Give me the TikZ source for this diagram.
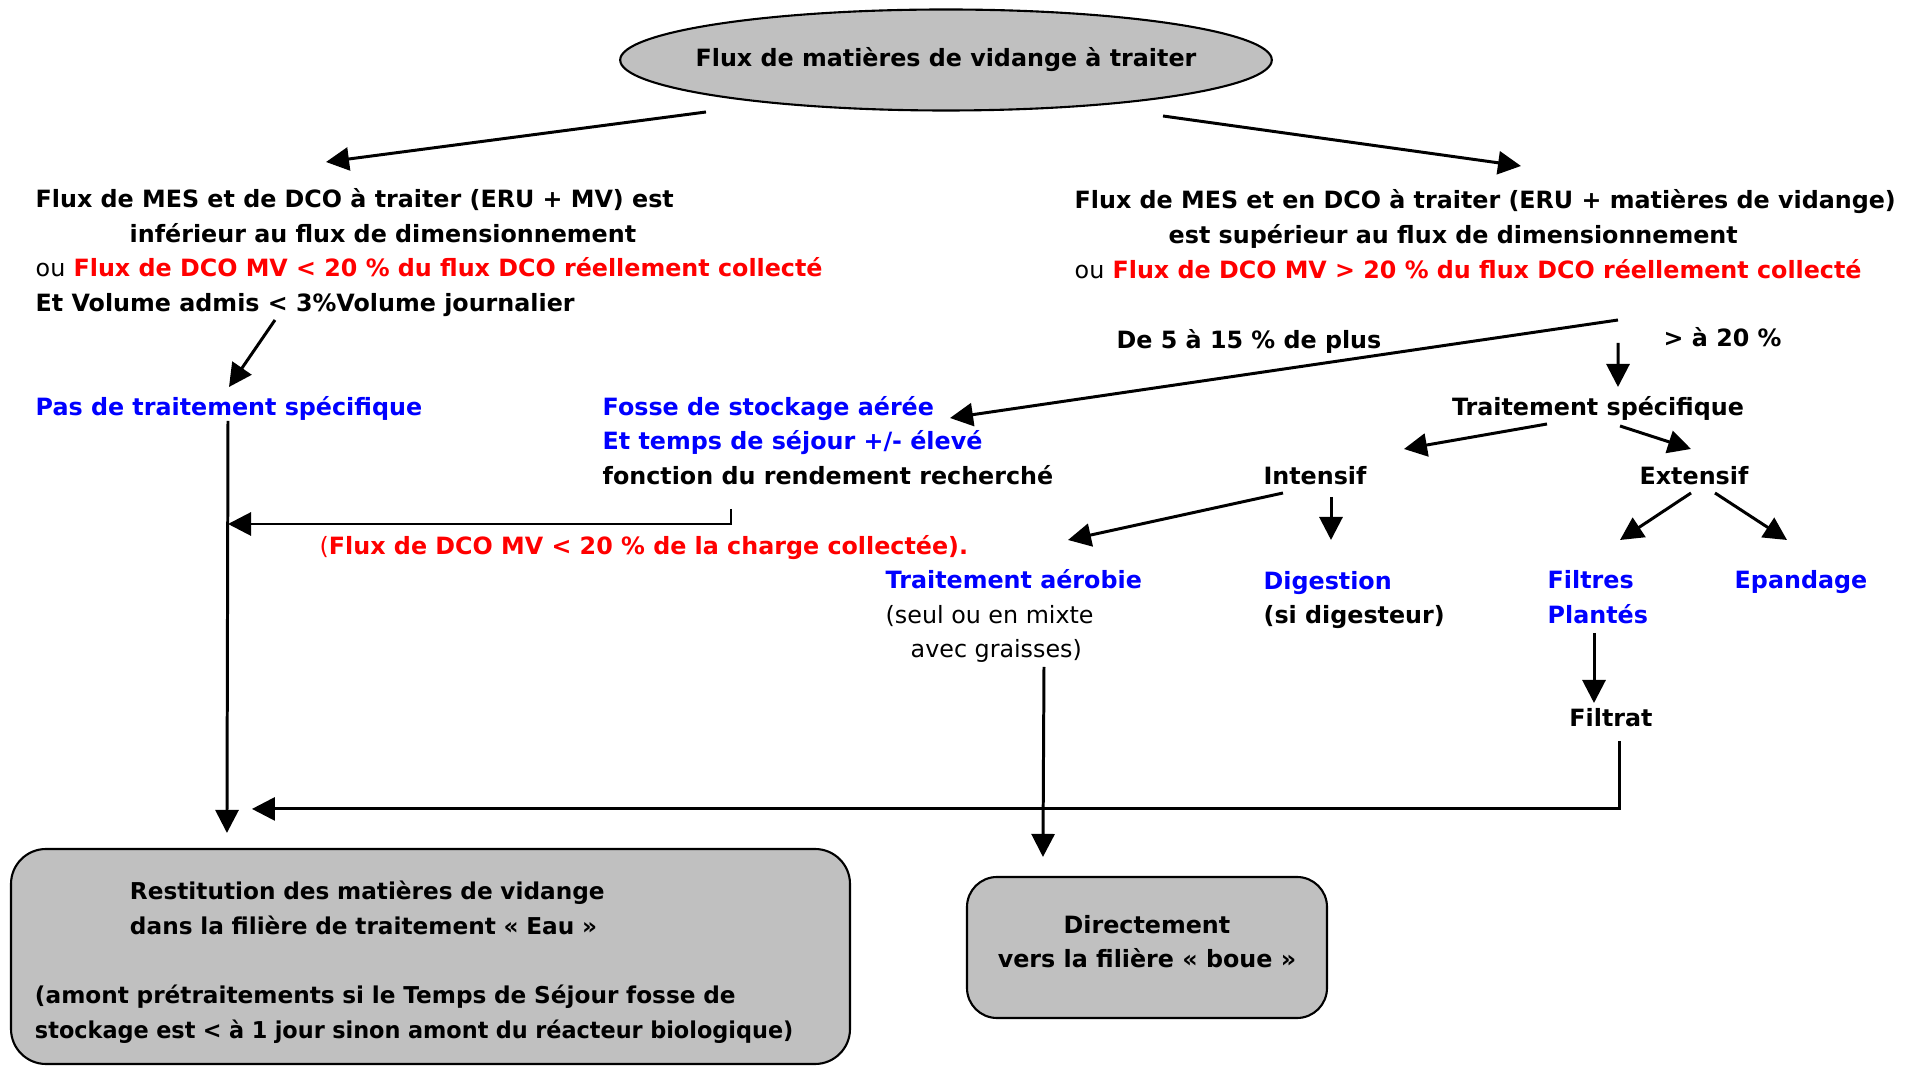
\documentclass[tikz,border=0pt]{standalone}
\usepackage{fontspec}
\usepackage{graphicx}
\setmainfont{DejaVu Sans}
\usetikzlibrary{arrows.meta,positioning,shapes.geometric,calc}
\definecolor{gris}{RGB}{192,192,192}
\definecolor{bleu}{RGB}{0,0,255}
\definecolor{rouge}{RGB}{255,0,0}

\begin{document}
\begin{tikzpicture}[
  font=\fontsize{6.77}{9.9}\selectfont\bfseries,
  titre/.style={ellipse, draw, fill=gris, line width=0.6pt, inner xsep=-0.2cm, inner ysep=0pt, minimum width=6.48cm, minimum height=1.01cm},
  boite/.style={rectangle, rounded corners=0.35cm, draw, fill=gris, line width=0.6pt},
  txt/.style={align=left, inner sep=0pt, anchor=west},
  bleu/.style={txt, text=bleu},
  lin/.style={-{Triangle[length=2.3mm,width=2.3mm]}, line width=0.85pt}
]
\useasboundingbox (0,0) rectangle (19.1,-10.66);
% source
\node[titre] (source) at (9.46,-0.60) {Flux de matières de vidange à traiter};
% les deux conditions
\node[txt] (condA) at (0.35,-2.525) {Flux de MES et de DCO à traiter (ERU + MV) est\\
  \hspace*{0.94cm}inférieur au flux de dimensionnement\\
  {\mdseries ou} \textcolor{rouge}{Flux de DCO MV < 20 \% du flux DCO réellement collecté}\\
  Et Volume admis < 3\%Volume journalier};
\node[txt] (condB) at (10.74,-2.34) {Flux de MES et en DCO à traiter (ERU + matières de vidange)\\
  \hspace*{0.94cm}est supérieur au flux de dimensionnement\\
  {\mdseries ou} \textcolor{rouge}{Flux de DCO MV > 20 \% du flux DCO réellement collecté}};
\node[txt] (plus) at (11.16,-3.41) {De 5 à 15 \% de plus};
\node[txt] (vingt) at (16.63,-3.37) {> à 20 \%};
% traitements
\node[bleu] (sans) at (0.35,-4.085) {Pas de traitement spécifique};
\node[txt] (fosse) at (6.02,-4.405) {\textcolor{bleu}{Fosse de stockage aérée}\\
  \textcolor{bleu}{Et temps de séjour +/- élevé}\\
  fonction du rendement recherché};
\node[txt, text=rouge] (charge) at (3.19,-5.475) {{\mdseries(}Flux de DCO MV < 20 \% de la charge collectée).};
\node[inner sep=0pt] (spec) at (15.98,-4.08) {Traitement spécifique};
\node[inner sep=0pt] (inten) at (13.15,-4.76) {Intensif};
\node[inner sep=0pt] (ext) at (16.94,-4.76) {Extensif};
\node[txt] (aero) at (8.85,-6.16) {\textcolor{bleu}{Traitement aérobie}\\
  {\mdseries (seul ou en mixte}\\
  \hspace*{0.25cm}{\mdseries avec graisses)}};
\node[txt] (dig) at (12.63,-6.00) {\textcolor{bleu}{Digestion}\\(si digesteur)};
\node[bleu] (filtres) at (15.47,-5.97) {Filtres\\Plantés};
\node[bleu] (epand) at (17.34,-5.82) {Epandage};
\node[inner sep=0pt] (filtrat) at (16.11,-7.18) {Filtrat};
% filières
\node[boite, minimum width=8.39cm, minimum height=2.15cm, text width=7.91cm, inner xsep=0.24cm, inner ysep=0.1cm, align=left,
  font=\fontsize{6.6}{9.9}\selectfont\bfseries] (eau) at (4.305,-9.565)
  {\rule{0pt}{0.3cm}\hspace*{0.95cm}Restitution des matières de vidange\\
  \hspace*{0.95cm}dans la filière de traitement « Eau »\\[9.9pt]
  (amont prétraitements si le Temps de Séjour fosse de\\
  \scalebox{0.965}[1]{stockage est < à 1 jour sinon amont du réacteur biologique)}};
\node[boite, rounded corners=0.3cm, minimum width=3.6cm, minimum height=1.41cm, align=center] (boue) at (11.47,-9.475)
  {Directement\\vers la filière « boue »\rule[-0.12cm]{0pt}{0.12cm}};
% flèches
\draw[lin] ($(source.center)+(-2.40,-0.52)$) -- ($(condA.west)+(2.91,0.905)$);
\draw[lin] ($(source.center)+(2.17,-0.56)$) -- ($(condB.west)+(4.47,0.68)$);
\draw[lin] ($(condA.west)+(2.40,-0.675)$) -- ($(sans.west)+(1.94,0.215)$);
\draw[lin] ($(condB.west)+(5.44,-0.86)$) -- ($(fosse.west)+(3.48,0.225)$);
\draw[lin] ($(condB.west)+(5.44,-1.09)$) -- ($(spec.center)+(0.20,0.21)$);
\draw[lin] ($(sans.west)+(1.93,-0.125)$) -- ($(eau.north west)+(2.17,0.15)$);
\draw[lin] ($(fosse.west)+(1.29,-0.685)$) |- ($(sans.west)+(1.93,-1.155)$);
\draw[lin] ($(spec.center)+(-0.51,-0.16)$) -- ($(inten.center)+(0.89,0.27)$);
\draw[lin] ($(spec.center)+(0.22,-0.18)$) -- ($(ext.center)+(-0.03,0.27)$);
\draw[lin] ($(inten.center)+(-0.32,-0.17)$) -- ($(aero.west)+(1.83,0.76)$);
\draw[lin] ($(inten.center)+(0.16,-0.21)$) -- ($(dig.west)+(0.68,0.60)$);
\draw[lin] ($(ext.center)+(-0.03,-0.17)$) -- ($(filtres.west)+(0.73,0.57)$);
\draw[lin] ($(ext.center)+(0.21,-0.17)$) -- ($(epand.west)+(0.53,0.42)$);
\draw[lin] ($(filtres.west)+(0.47,-0.36)$) -- ($(filtrat.center)+(-0.17,0.15)$);
\draw[lin] ($(filtrat.center)+(0.08,-0.23)$) |- ($(eau.north west)+(2.42,0.39)$);
\draw[lin] ($(aero.west)+(1.59,-0.51)$) -- ($(boue.north west)+(0.77,0.19)$);
\end{tikzpicture}
\end{document}
